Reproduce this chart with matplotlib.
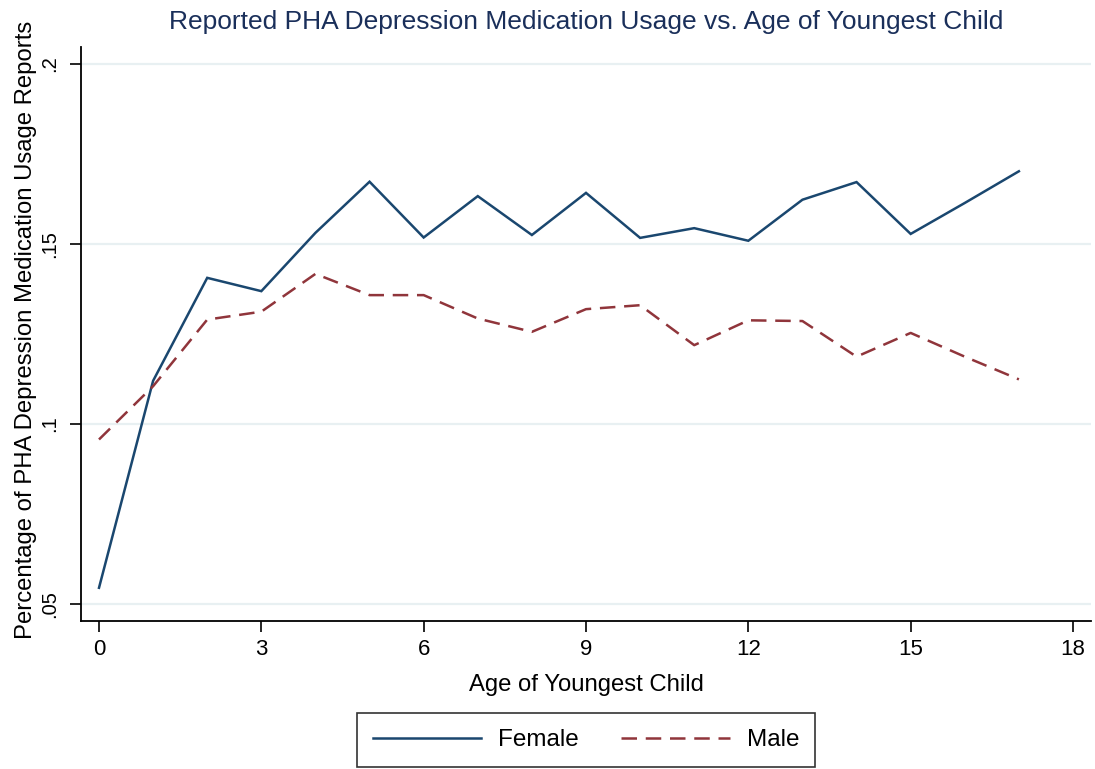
import matplotlib
matplotlib.use("Agg")
import matplotlib.pyplot as plt
from matplotlib.lines import Line2D

ages = list(range(18))
female = [0.0545, 0.1120, 0.1406, 0.1369, 0.1531, 0.1673, 0.1518, 0.1633, 0.1525,
          0.1642, 0.1517, 0.1544, 0.1509, 0.1623, 0.1672, 0.1528, 0.1614, 0.1702]
male = [0.0957, 0.1105, 0.1290, 0.1312, 0.1417, 0.1358, 0.1358, 0.1293, 0.1256,
        0.1319, 0.1330, 0.1219, 0.1288, 0.1286, 0.1187, 0.1253, 0.1187, 0.1124]
xticks = [0, 3, 6, 9, 12, 15, 18]
yticks = [0.05, 0.10, 0.15, 0.20]
ytick_labels = [".05", ".1", ".15", ".2"]

plt.rcParams['font.family'] = ['Liberation Sans', 'DejaVu Sans']

W, H = 1095, 769
fig = plt.figure(figsize=(W/100, H/100), dpi=100)
L, R, B, T = 81, 1091, 621, 47
ax = fig.add_axes([L/W, 1-B/H, (R-L)/W, (B-T)/H])

c_f = '#1a476f'
c_m = '#90353b'
LW = 1.8
DASH = (6.2, 3.5)
ax.plot(ages, female, color=c_f, lw=LW, solid_joinstyle='miter')
ax.plot(ages, male, color=c_m, lw=LW, dashes=DASH)

x_per_px = 18 / (1073 - 99)
ax.set_xlim(0 - (99-L)*x_per_px, 18 + (R-1073)*x_per_px)
y_per_px = 0.15 / (604 - 64)
ax.set_ylim(0.05 - (B-604)*y_per_px, 0.2 + (64-T)*y_per_px)

ax.set_xticks(xticks)
ax.set_xticklabels([str(t) for t in xticks], fontsize=16)
ax.set_yticks(yticks)
ax.set_yticklabels(ytick_labels, fontsize=14.5, rotation=90, va='center')
ax.tick_params(direction='out', length=8, width=1.2, color='black')
ax.tick_params(axis='x', pad=5)
ax.tick_params(axis='y', pad=8)
ax.grid(axis='y', color='#e8f0f2', lw=1.6)
ax.set_axisbelow(True)
for s in ['top', 'right']:
    ax.spines[s].set_visible(False)
for s in ['left', 'bottom']:
    ax.spines[s].set_linewidth(1.3)

ax.set_xlabel("Age of Youngest Child", fontsize=17.2)
ax.xaxis.set_label_coords((586-L)/(R-L), (B-685)/(B-T))
ax.xaxis.label.set_va('center')
ax.set_ylabel("Percentage of PHA Depression Medication Usage Reports", fontsize=17.2)
ax.yaxis.set_label_coords((26-L)/(R-L), (B-330)/(B-T))
ax.yaxis.label.set_va('center')

fig.text(0.535, 1-22/H, "Reported PHA Depression Medication Usage vs. Age of Youngest Child",
         ha='center', va='center', fontsize=19, color='#1a2f5a')

handles = [Line2D([], [], color=c_f, lw=LW),
           Line2D([], [], color=c_m, lw=LW, dashes=DASH)]
leg = fig.legend(handles, ["Female", "Male"], loc='center', bbox_to_anchor=(586/W, 1-740/H),
                 ncol=2, fontsize=17.5, frameon=True, fancybox=False, edgecolor='black',
                 handlelength=4.45, handletextpad=0.7, columnspacing=1.75, borderpad=0.65)
leg.get_frame().set_linewidth(1.2)

fig.savefig("out.png", dpi=100, facecolor='white')
